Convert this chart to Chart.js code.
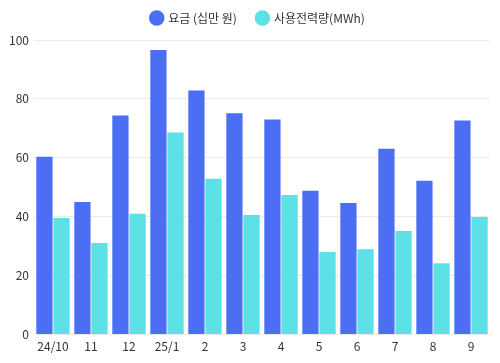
<!DOCTYPE html>
<html>
<head>
<meta charset="utf-8">
<script src="https://cdn.jsdelivr.net/npm/chart.js@4"></script>
<style>
  html, body { margin: 0; padding: 0; background: #fff; }
  #wrap { width: 500px; height: 363px; }
</style>
</head>
<body>
<div id="wrap"><canvas id="chart"></canvas></div>
<script>
const months = ["24/10", "11", "12", "25/1", "2", "3", "4", "5", "6", "7", "8", "9"];
const fee = [60.4, 45.0, 74.4, 96.6, 82.9, 75.1, 73.0, 48.8, 44.7, 63.1, 52.2, 72.7];
const usage = [39.6, 31.1, 41.0, 68.6, 52.9, 40.6, 47.4, 28.0, 29.0, 35.2, 24.2, 39.9];

Chart.defaults.font.family = "'Noto Sans CJK KR', 'Noto Sans', sans-serif";
Chart.defaults.font.size = 12;
Chart.defaults.color = "#333";

// a bit more room under the legend, and nudge it right like the original
const legendTweak = {
  id: "legendTweak",
  beforeInit(chart) {
    const fit = chart.legend.fit;
    chart.legend.fit = function () {
      fit.bind(chart.legend)();
      this.height += 6;
    };
  },
  afterLayout(chart) {
    chart.legend.left += 22;
  },
};

new Chart(document.getElementById("chart"), {
  type: "bar",
  data: {
    labels: months,
    datasets: [
      {
        label: "요금 (십만 원)",
        data: fee,
        backgroundColor: "#4c6ef5",
        categoryPercentage: 0.9,
        barPercentage: 0.95,
      },
      {
        label: "사용전력량(MWh)",
        data: usage,
        backgroundColor: "#5ce1e6",
        categoryPercentage: 0.9,
        barPercentage: 0.95,
      },
    ],
  },
  options: {
    responsive: true,
    maintainAspectRatio: false,
    animation: false,
    layout: { padding: { left: 4, right: 10, bottom: 4, top: -8 } },
    plugins: {
      legend: {
        position: "top",
        labels: { usePointStyle: true, pointStyle: "circle", boxWidth: 11, boxHeight: 11, padding: 20 },
      },
      tooltip: { enabled: false },
    },
    scales: {
      x: {
        grid: { display: false, drawTicks: false },
        border: { display: false },
        ticks: { padding: 5 },
      },
      y: {
        beginAtZero: true,
        max: 100,
        ticks: { stepSize: 20, padding: 5 },
        grid: { color: "#ebebeb", drawTicks: false },
        border: { display: false },
      },
    },
  },
  plugins: [legendTweak],
});
</script>
</body>
</html>
